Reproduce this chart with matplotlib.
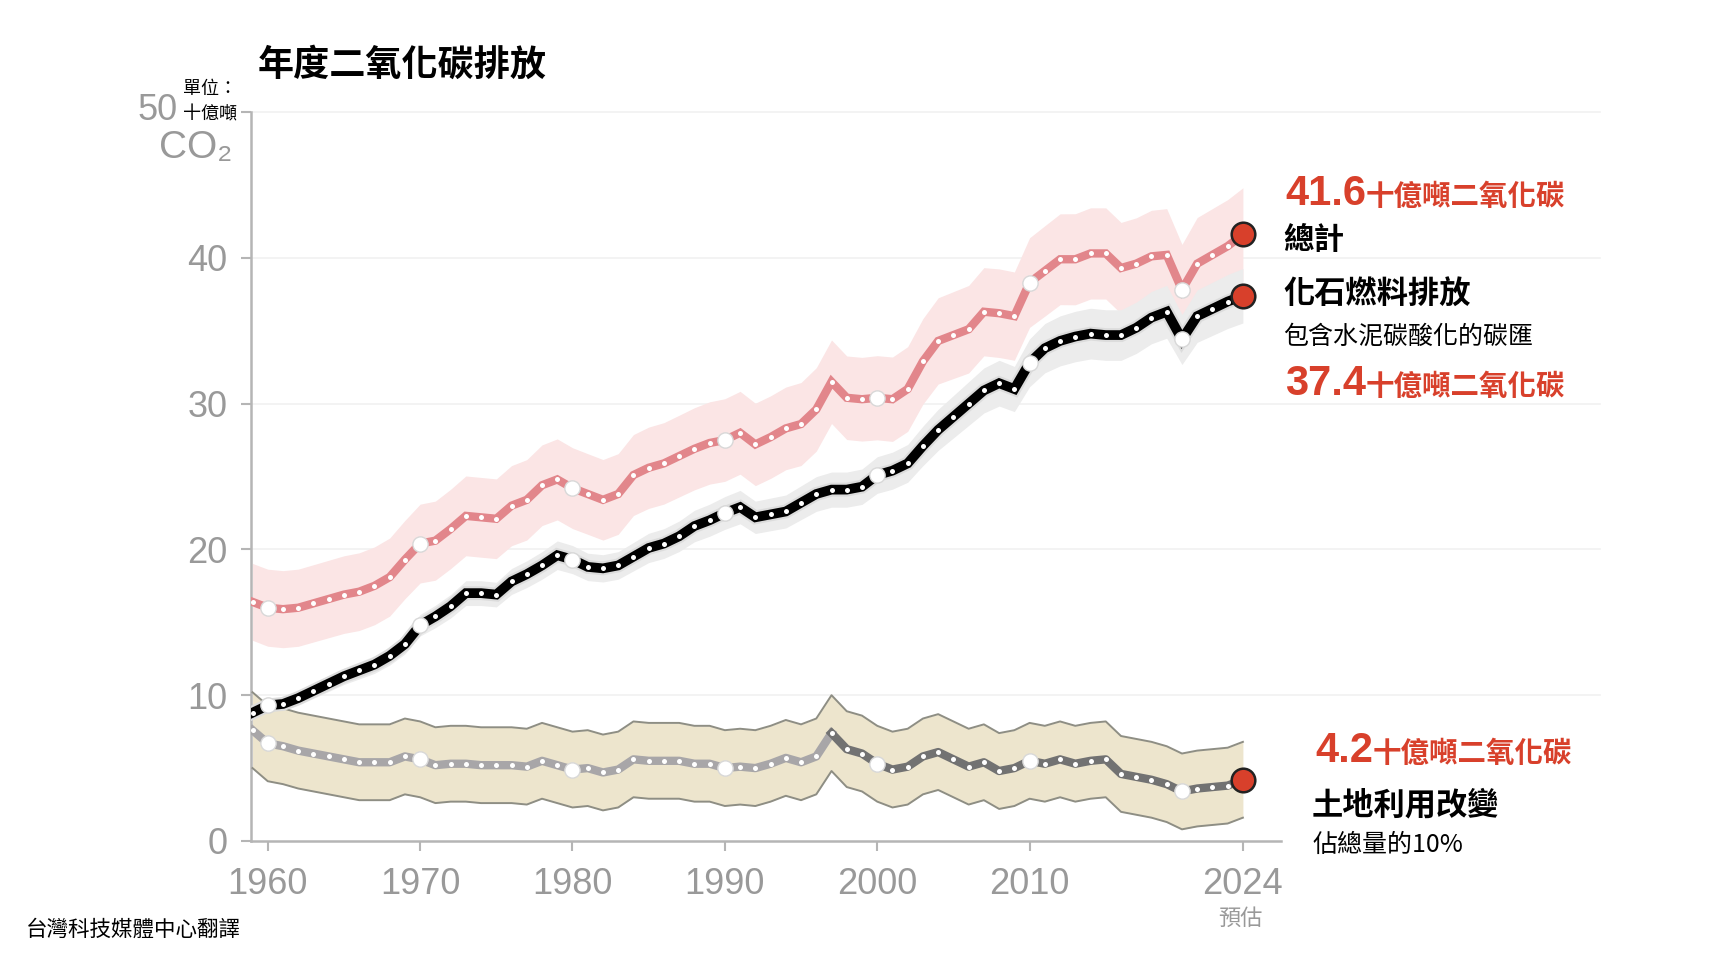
import numpy as np
import matplotlib.pyplot as plt
import matplotlib.patheffects as pe

# annual CO2 emissions, billion tonnes CO2
years = list(range(1959, 2025))

fossil = [8.8, 9.3, 9.4, 9.8, 10.3, 10.8, 11.3, 11.7, 12.1, 12.7,
          13.5, 14.8, 15.4, 16.1, 17.0, 17.0, 16.9, 17.8, 18.3, 18.9,
          19.6, 19.3, 18.8, 18.7, 18.9, 19.5, 20.1, 20.4, 20.9, 21.6,
          22.0, 22.5, 22.9, 22.2, 22.4, 22.6, 23.2, 23.8, 24.1, 24.1,
          24.3, 25.1, 25.4, 25.9, 27.1, 28.2, 29.1, 30.0, 30.9, 31.4,
          31.0, 32.8, 33.8, 34.3, 34.6, 34.8, 34.7, 34.7, 35.2, 35.9,
          36.3, 34.4, 36.0, 36.5, 37.0, 37.4]

land_use = [7.6, 6.7, 6.5, 6.2, 6.0, 5.8, 5.6, 5.4, 5.4, 5.4,
            5.8, 5.6, 5.2, 5.3, 5.3, 5.2, 5.2, 5.2, 5.1, 5.5,
            5.2, 4.9, 5.0, 4.7, 4.9, 5.6, 5.5, 5.5, 5.5, 5.3,
            5.3, 5.0, 5.1, 5.0, 5.3, 5.7, 5.4, 5.8, 7.4, 6.3,
            6.0, 5.3, 4.9, 5.1, 5.8, 6.1, 5.6, 5.1, 5.4, 4.8,
            5.0, 5.5, 5.3, 5.6, 5.3, 5.5, 5.6, 4.6, 4.4, 4.2,
            3.9, 3.4, 3.6, 3.7, 3.8, 4.2]

total = [16.4, 16.0, 15.9, 16.0, 16.3, 16.6, 16.9, 17.1, 17.5, 18.1,
         19.3, 20.4, 20.6, 21.4, 22.3, 22.2, 22.1, 23.0, 23.4, 24.4,
         24.8, 24.2, 23.8, 23.4, 23.8, 25.1, 25.6, 25.9, 26.4, 26.9,
         27.3, 27.5, 28.0, 27.2, 27.7, 28.3, 28.6, 29.6, 31.5, 30.4,
         30.3, 30.4, 30.3, 31.0, 32.9, 34.3, 34.7, 35.1, 36.3, 36.2,
         36.0, 38.3, 39.1, 39.9, 39.9, 40.3, 40.3, 39.3, 39.6, 40.1,
         40.2, 37.8, 39.6, 40.2, 40.8, 41.6]

big_dot_years = [1960, 1970, 1980, 1990, 2000, 2010, 2020]
xtick_years = [1960, 1970, 1980, 1990, 2000, 2010, 2024]
ytick_vals = [0, 10, 20, 30, 40, 50]

land_unc = 2.6      # +/- GtCO2
fossil_unc = 0.05   # +/- fraction

RED = '#d8402b'
PINK = '#e2868b'
TICK_GREY = '#999999'
CJK = ['Noto Sans CJK TC', 'DejaVu Sans']
LAT = ['Liberation Sans', 'DejaVu Sans']

plt.rcParams['font.family'] = ['Liberation Sans', 'Noto Sans CJK TC', 'DejaVu Sans']

W, H = 1710, 956


def fpos(x, y):
    # pixel position (from top-left) -> figure fraction
    return x / W, 1 - y / H


fig = plt.figure(figsize=(W / 100, H / 100), dpi=100)
ax = fig.add_axes([251 / W, 1 - 841 / H, (1281 - 251) / W, (841 - 112) / H])
ax.set_xlim(1958.9, 2026.5)
ax.set_ylim(0, 50)

yr = np.array(years)
fo = np.array(fossil)
lu = np.array(land_use)
to = np.array(total)

# faint grid, running on past the plot towards the labels
for v in ytick_vals[1:]:
    ax.axhline(v, xmin=0, xmax=1.31, color='#f1f1f1', lw=1.2, zorder=0, clip_on=False)

# uncertainty bands
fo_err = fo * fossil_unc
to_err = np.sqrt(fo_err ** 2 + land_unc ** 2)
ax.fill_between(yr, to - to_err, to + to_err, color='#fbe5e5', lw=0, zorder=1)
ax.fill_between(yr, fo - fo_err, fo + fo_err, color='#ececec', lw=0, zorder=2)
ax.fill_between(yr, lu - land_unc, lu + land_unc, color='#ede5cd', lw=0, zorder=3)
ax.plot(yr, lu + land_unc, color='#8e8e84', lw=1.4, zorder=3.5)
ax.plot(yr, lu - land_unc, color='#8e8e84', lw=1.4, zorder=3.5)

# main lines
ax.plot(yr, to, color=PINK, lw=6, zorder=5, solid_joinstyle='miter')
ax.plot(yr, fo, color='black', lw=7, zorder=5, solid_joinstyle='miter',
        path_effects=[pe.Stroke(linewidth=10, foreground='#dcdcdc'), pe.Normal()])
split = years.index(1997)
ax.plot(yr[:split + 1], lu[:split + 1], color='#a8a6a8', lw=6, zorder=5)
ax.plot(yr[split:], lu[split:], color='#727272', lw=6, zorder=5)

# small white dots for every year
for s in (to, fo, lu):
    ax.plot(yr[:-1], s[:-1], ls='none', marker='o', ms=3.6, mfc='white', mec='none', zorder=6)

# bigger white dots at the decades
idx = [years.index(y) for y in big_dot_years]
for s in (to, fo, lu):
    ax.plot(yr[idx], s[idx], ls='none', marker='o', ms=11, mfc='white',
            mec='#d8d8d8', mew=1, zorder=7)

# red dots for the 2024 estimate
for s in (to, fo, lu):
    ax.plot(yr[-1], s[-1], marker='o', ms=17, mfc=RED, mec='#222222', mew=1.8,
            zorder=8, clip_on=False)

# axes styling
for side in ('top', 'right'):
    ax.spines[side].set_visible(False)
for side in ('left', 'bottom'):
    ax.spines[side].set_color('#b5b5b5')
    ax.spines[side].set_linewidth(1.8)
ax.set_xticks(xtick_years)
ax.set_xticklabels([str(y) for y in xtick_years])
ax.set_yticks(ytick_vals)
ax.set_yticklabels([str(v) for v in ytick_vals[:-1]] + [''])
ax.tick_params(axis='both', colors='#b5b5b5', length=7, width=1.5,
               labelcolor=TICK_GREY, labelsize=26)
ax.tick_params(axis='x', pad=12)
ax.tick_params(axis='y', pad=10)

# top of the y axis: 50, unit and CO2
fig.text(*fpos(178, 110), '50', ha='right', va='center', fontsize=26,
         color=TICK_GREY, family=LAT)
fig.text(*fpos(232, 148), 'CO₂', ha='right', va='center', fontsize=28,
         color=TICK_GREY, family=LAT)
fig.text(*fpos(183, 89), '單位：', ha='left', va='center', fontsize=13,
         family=CJK)
fig.text(*fpos(183, 114), '十億噸', ha='left', va='center', fontsize=13,
         family=CJK)

# title and credit
fig.text(*fpos(258, 65), '年度二氧化碳排放', ha='left', va='center', fontsize=26,
         fontweight='bold', family=CJK)
fig.text(*fpos(26, 930), '台灣科技媒體中心翻譯', ha='left', va='center',
         fontsize=15.5, family=CJK)
fig.text(*fpos(1240, 918), '預估', ha='center', va='center', fontsize=16,
         color=TICK_GREY, family=CJK)


def red_value(x, y_base, value):
    num = fig.text(*fpos(x, y_base), value, ha='left', va='baseline',
                   fontsize=30, fontweight='bold', color=RED, family=LAT)
    fig.text(*fpos(x, y_base), '十億噸二氧化碳', ha='left', va='baseline',
             fontsize=20.5, fontweight='bold', color=RED, family=CJK)
    return num


labels_red = [(1285, 205, f'{total[-1]:.1f}'),
              (1285, 395, f'{fossil[-1]:.1f}'),
              (1315, 762, f'{land_use[-1]:.1f}')]
nums = [red_value(*r) for r in labels_red]

# put the unit text right after each number
fig.canvas.draw()
renderer = fig.canvas.get_renderer()
for t in list(fig.texts):
    if t.get_text() == '十億噸二氧化碳':
        for n in nums:
            if n.get_position()[1] == t.get_position()[1]:
                bb = n.get_window_extent(renderer)
                t.set_x(bb.x1 / W)

fig.text(*fpos(1283, 240), '總計', ha='left', va='center', fontsize=22,
         fontweight='bold', family=CJK)
fig.text(*fpos(1283, 295), '化石燃料排放', ha='left', va='center', fontsize=22.5,
         fontweight='bold', family=CJK)
fig.text(*fpos(1283, 337), '包含水泥碳酸化的碳匯', ha='left', va='center',
         fontsize=18, family=CJK)
fig.text(*fpos(1312, 805), '土地利用改變', ha='left', va='center', fontsize=22.5,
         fontweight='bold', family=CJK)
fig.text(*fpos(1312, 845), '佔總量的10%', ha='left', va='center', fontsize=18,
         family=CJK)

fig.savefig('out.png', dpi=100, facecolor='white')
